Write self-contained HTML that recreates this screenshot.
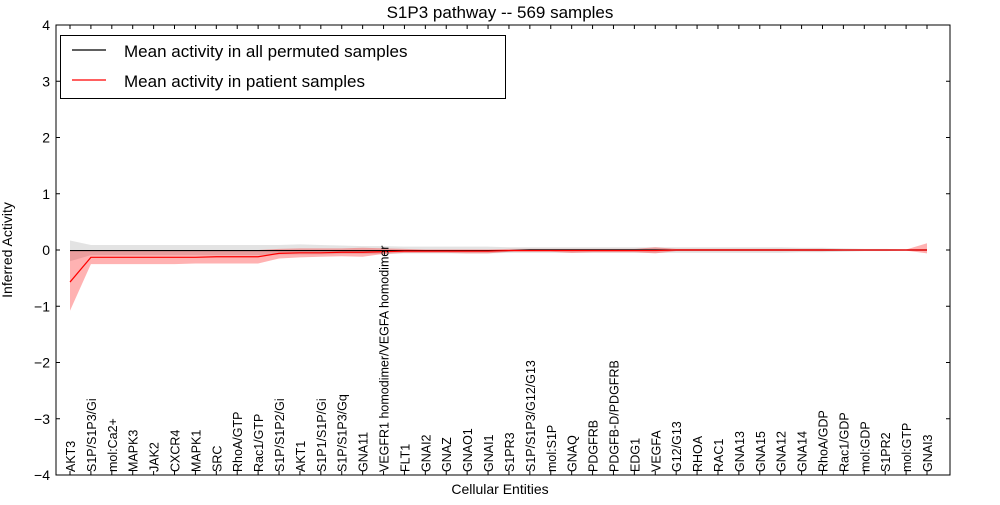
<!DOCTYPE html>
<html><head><meta charset="utf-8"><style>
body{margin:0;background:#fff;font-family:"Liberation Sans","DejaVu Sans",sans-serif}
</style></head><body>
<svg id="c" width="1000" height="500" xmlns="http://www.w3.org/2000/svg"></svg>
<script>
const categories=["AKT3","S1P/S1P3/Gi","mol:Ca2+","MAPK3","JAK2","CXCR4","MAPK1","SRC","RhoA/GTP","Rac1/GTP","S1P/S1P2/Gi","AKT1","S1P1/S1P/Gi","S1P/S1P3/Gq","GNA11","VEGFR1 homodimer/VEGFA homodimer","FLT1","GNAI2","GNAZ","GNAO1","GNAI1","S1PR3","S1P/S1P3/G12/G13","mol:S1P","GNAQ","PDGFRB","PDGFB-D/PDGFRB","EDG1","VEGFA","G12/G13","RHOA","RAC1","GNA13","GNA15","GNA12","GNA14","RhoA/GDP","Rac1/GDP","mol:GDP","S1PR2","mol:GTP","GNAI3"];
const patientMean=[-0.57,-0.13,-0.13,-0.13,-0.13,-0.13,-0.13,-0.12,-0.12,-0.12,-0.06,-0.05,-0.05,-0.04,-0.04,-0.03,-0.02,-0.02,-0.02,-0.02,-0.02,-0.01,-0.01,-0.01,-0.01,-0.01,-0.01,-0.01,-0.01,0,0,0,0,0,0,0,0,0,0,0,0,0];
const patientLow=[-1.08,-0.25,-0.25,-0.25,-0.25,-0.25,-0.24,-0.24,-0.24,-0.24,-0.15,-0.13,-0.12,-0.11,-0.12,-0.07,-0.05,-0.05,-0.05,-0.06,-0.06,-0.03,-0.03,-0.03,-0.05,-0.04,-0.04,-0.04,-0.06,-0.02,-0.02,-0.02,-0.02,-0.02,-0.02,-0.02,-0.02,-0.01,-0.01,-0.01,-0.01,-0.06];
const patientHigh=[0,0,0,0,0,0,0,0,0,0,0.02,0.03,0.03,0.03,0.04,0.03,0.02,0.01,0.01,0.01,0.01,0.02,0.02,0.02,0.02,0.02,0.02,0.02,0.05,0.02,0.02,0.02,0.02,0.02,0.02,0.02,0.02,0.01,0.01,0.01,0.01,0.12];
const permMean=[-0.01,-0.01,-0.01,-0.01,-0.01,-0.01,-0.01,-0.01,-0.01,-0.01,-0.01,-0.01,-0.01,-0.01,-0.01,-0.01,-0.01,-0.01,-0.01,-0.01,-0.01,-0.01,0,0,0,0,0,0,0,0,0,0,0,0,0,0,0,0,0,0,0,0];
const permLow=[-0.2,-0.09,-0.09,-0.09,-0.09,-0.09,-0.09,-0.09,-0.09,-0.09,-0.08,-0.08,-0.08,-0.07,-0.07,-0.07,-0.06,-0.06,-0.06,-0.06,-0.06,-0.05,-0.05,-0.05,-0.05,-0.05,-0.05,-0.05,-0.05,-0.05,-0.05,-0.05,-0.05,-0.05,-0.05,-0.04,-0.04,-0.03,-0.02,-0.02,-0.01,-0.02];
const permHigh=[0.17,0.09,0.09,0.09,0.09,0.09,0.09,0.09,0.09,0.09,0.09,0.1,0.09,0.08,0.07,0.07,0.06,0.06,0.06,0.06,0.06,0.05,0.05,0.05,0.05,0.05,0.05,0.05,0.05,0.05,0.05,0.05,0.05,0.05,0.05,0.04,0.04,0.03,0.02,0.02,0.01,0.02];
const yTicks=[-4,-3,-2,-1,0,1,2,3,4];
const L=56,R=950,T=25,B=475;
const xs=i=>70+i*(927-70)/(categories.length-1);
const ys=v=>T+(4-v)*(B-T)/8;
const svg=document.getElementById('c');
const NS='http://www.w3.org/2000/svg';
function mk(t,a,p){const e=document.createElementNS(NS,t);for(const k in a)e.setAttribute(k,a[k]);(p||svg).appendChild(e);return e;}
function band(lo,hi,fill,op){let d='';lo.forEach((v,i)=>d+=(i?'L':'M')+xs(i)+','+ys(v));for(let i=hi.length-1;i>=0;i--)d+='L'+xs(i)+','+ys(hi[i]);return mk('path',{d:d+'Z',fill:fill,'fill-opacity':op});}
function line(a,c){return mk('path',{d:a.map((v,i)=>(i?'L':'M')+xs(i)+','+ys(v)).join(''),stroke:c,'stroke-width':1.2,fill:'none'});}
let e;
e=band(permLow,permHigh,'#b0b0b0',0.35);


e=band(patientLow,patientHigh,'#ff0000',0.3);


e=line(permMean,'#000');


e=line(patientMean,'#f00');


e=mk('rect',{x:L,y:T,width:R-L,height:B-T,fill:'none',stroke:'#000','stroke-width':1});


yTicks.forEach(v=>{const y=ys(v);
mk('line',{x1:L,x2:L+4,y1:y,y2:y,stroke:'#000'});mk('line',{x1:R-4,x2:R,y1:y,y2:y,stroke:'#000'});
const t=mk('text',{x:L-6,y:y+5,'text-anchor':'end','font-size':14});t.textContent=(v<0?'\u2212':'')+Math.abs(v);

});
categories.forEach((c,i)=>{const x=xs(i);
mk('line',{x1:x,x2:x,y1:B,y2:B-4,stroke:'#000'});mk('line',{x1:x,x2:x,y1:T,y2:T+4,stroke:'#000'});
const t=mk('text',{x:0,y:0,'font-size':12.5,transform:`translate(${x+5},${B-3}) rotate(-90)`});t.textContent=c;

});
e=mk('text',{x:500,y:18,'text-anchor':'middle','font-size':17});e.textContent='S1P3 pathway -- 569 samples';


e=mk('text',{x:500,y:494,'text-anchor':'middle','font-size':14});e.textContent='Cellular Entities';


e=mk('text',{x:0,y:0,'text-anchor':'middle','font-size':14,transform:'translate(12,250) rotate(-90)'});e.textContent='Inferred Activity';


const g=mk('g',{});


mk('rect',{x:60.5,y:35.5,width:445,height:63,fill:'#fff',stroke:'#000'},g);
mk('line',{x1:72,x2:106,y1:50,y2:50,stroke:'#000','stroke-width':1.2},g);
mk('line',{x1:72,x2:106,y1:80,y2:80,stroke:'#f00','stroke-width':1.2},g);
e=mk('text',{x:124,y:57,'font-size':17},g);e.textContent='Mean activity in all permuted samples';


e=mk('text',{x:124,y:87,'font-size':17},g);e.textContent='Mean activity in patient samples';


</script>
</body></html>
